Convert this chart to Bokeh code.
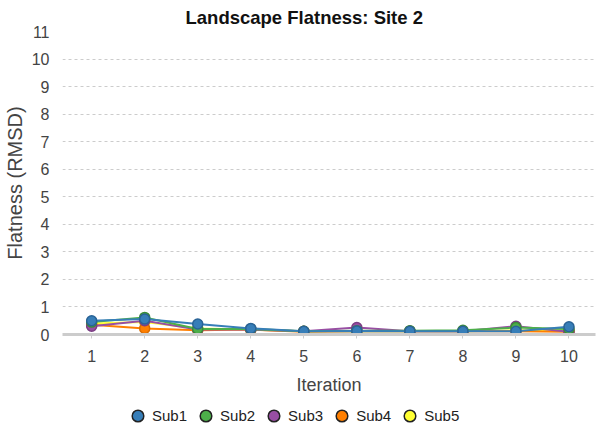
from bokeh.plotting import figure
from bokeh.layouts import column
from bokeh.models import FixedTicker, Legend, LegendItem, ColumnDataSource, Range1d
from bokeh.embed import file_html
from bokeh.resources import INLINE

iterations = [1, 2, 3, 4, 5, 6, 7, 8, 9, 10]
series_names = ["Sub1", "Sub2", "Sub3", "Sub4", "Sub5"]
sub1 = [0.50, 0.56, 0.38, 0.22, 0.12, 0.13, 0.12, 0.12, 0.12, 0.28]
sub2 = [0.45, 0.62, 0.20, 0.20, 0.12, 0.14, 0.14, 0.15, 0.25, 0.20]
sub3 = [0.30, 0.50, 0.18, 0.18, 0.12, 0.25, 0.12, 0.12, 0.30, 0.10]
sub4 = [0.35, 0.22, 0.15, 0.18, 0.10, 0.12, 0.12, 0.12, 0.12, 0.10]
sub5 = [0.40, 0.45, 0.22, 0.18, 0.12, 0.12, 0.12, 0.12, 0.15, 0.15]
y_ticks = [0, 1, 2, 3, 4, 5, 6, 7, 8, 9, 10, 11]

colors = ["#377eb8", "#4daf4a", "#984ea3", "#ff7f00", "#ffff33"]
outline = ["#2a6396", "#3a8c37", "#7a3e83", "#d96c00", "#d9d92b"]
values = [sub1, sub2, sub3, sub4, sub5]

FONT = "Liberation Sans"

p = figure(width=596, height=398, output_backend="svg", toolbar_location=None,
           x_range=Range1d(0.45, 10.5), y_range=Range1d(0, 11),
           title="Landscape Flatness: Site 2",
           min_border_left=62, min_border_right=1, min_border_top=31,
           min_border_bottom=64)
p.outline_line_color = None
p.background_fill_color = "white"

p.title.align = "left"
p.title.text_font = FONT
p.title.text_font_size = "18.5px"
p.title.text_font_style = "bold"
p.title.text_color = "#111111"
p.title.offset = 123
p.title.standoff = 7

# axes
p.xaxis.ticker = FixedTicker(ticks=iterations)
p.xaxis.axis_label = "Iteration"
p.xaxis.axis_label_text_font = FONT
p.xaxis.axis_label_text_font_size = "18px"
p.xaxis.axis_label_text_font_style = "normal"
p.xaxis.axis_label_text_color = "#444444"
p.xaxis.axis_label_standoff = 10
p.xaxis.major_label_text_font = FONT
p.xaxis.major_label_text_font_size = "16px"
p.xaxis.major_label_text_color = "#444444"
p.xaxis.major_label_standoff = 11
p.xaxis.axis_line_color = "#cccccc"
p.xaxis.axis_line_width = 3
p.xaxis.major_tick_line_color = "#cccccc"
p.xaxis.major_tick_in = 0
p.xaxis.major_tick_out = 4
p.xaxis.minor_tick_line_color = None

p.yaxis.ticker = FixedTicker(ticks=y_ticks)
p.yaxis.axis_label = "Flatness (RMSD)"
p.yaxis.axis_label_text_font = FONT
p.yaxis.axis_label_text_font_size = "20px"
p.yaxis.axis_label_text_font_style = "normal"
p.yaxis.axis_label_text_color = "#444444"
p.yaxis.axis_label_standoff = 3
p.yaxis.major_label_text_font = FONT
p.yaxis.major_label_text_font_size = "16px"
p.yaxis.major_label_text_color = "#444444"
p.yaxis.major_label_standoff = 7
p.yaxis.axis_line_color = None
p.yaxis.major_tick_line_color = None
p.yaxis.minor_tick_line_color = None

p.xgrid.grid_line_color = None
p.ygrid.ticker = FixedTicker(ticks=y_ticks[1:-1])
p.ygrid.grid_line_color = "#cccccc"
p.ygrid.grid_line_dash = "3 3"
p.ygrid.grid_line_width = 1

# draw series (Sub5 first so Sub1 is on top)
for i in reversed(range(len(series_names))):
    src = ColumnDataSource(dict(x=iterations, y=values[i]))
    p.line("x", "y", source=src, line_color=colors[i], line_width=2)
    p.scatter("x", "y", source=src, size=10, fill_color=colors[i],
              line_color=outline[i], line_width=1.5)

# separate strip holding the legend
lg = figure(width=596, height=33, output_backend="svg", toolbar_location=None,
            x_axis_location=None, y_axis_location=None, min_border=0,
            x_range=Range1d(0, 1), y_range=Range1d(0, 1))
lg.outline_line_color = None
lg.xgrid.grid_line_color = None
lg.ygrid.grid_line_color = None

items = []
for i, name in enumerate(series_names):
    r = lg.scatter(x=[-10], y=[-10], size=12, fill_color=colors[i],
                   line_color="#222222", line_width=1.5)
    items.append(LegendItem(label=name, renderers=[r]))

legend = Legend(items=items, orientation="horizontal", location=(61, 1),
                border_line_color=None, background_fill_alpha=0,
                label_text_font=FONT, label_text_font_size="15px",
                label_text_color="#222222", glyph_width=29, glyph_height=29,
                spacing=4, label_standoff=0, padding=0, margin=0)
lg.add_layout(legend, "center")

layout = column(p, lg, spacing=0)
open("out.html", "w").write(file_html(layout, INLINE))
